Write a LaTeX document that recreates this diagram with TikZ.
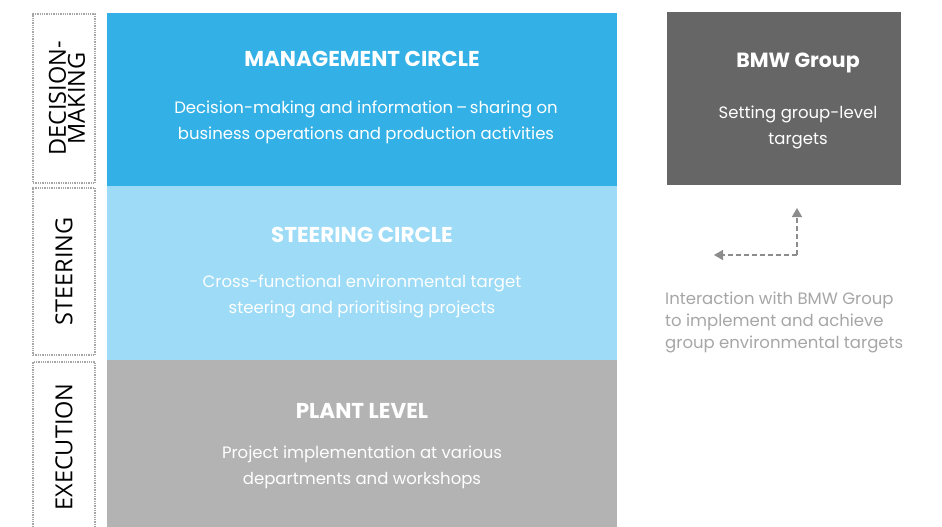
\documentclass[tikz,border=0pt]{standalone}
\usepackage{fontspec}
\setmainfont{Poppins}
\newfontfamily\sidefont{Open Sans}
\usetikzlibrary{arrows.meta}
\definecolor{mgmtblue}{HTML}{33B1E6}
\definecolor{steerblue}{HTML}{9DDBF6}
\definecolor{plantgray}{HTML}{B3B3B3}
\definecolor{groupgray}{HTML}{666666}
\definecolor{notegray}{HTML}{A6A6A6}
\definecolor{linkgray}{HTML}{8C8C8C}

\begin{document}
\begin{tikzpicture}[x=1pt, y=-1pt,
    tier/.style={minimum width=510pt, inner sep=0pt},
    tiertitle/.style={text=white, font=\fontsize{21.5}{24}\selectfont\bfseries},
    tiertext/.style={text=white, align=center, font=\fontsize{16.5}{26}\selectfont},
    sidebox/.style={draw=gray!70, densely dotted, line width=1.3pt, minimum width=62pt, inner sep=0pt},
    sidelabel/.style={rotate=90, align=center, font=\sidefont\fontsize{23.5}{19}\selectfont},
    link/.style={linkgray, dash pattern=on 5pt off 3pt, line width=1.5pt, -{Triangle[width=10pt, length=9pt]}}]
                    % Frame:
                    \useasboundingbox (0, 0) rectangle (942, 527);
                    % Tiers:
                    \node[tier, fill=mgmtblue, minimum height=173pt] (mgmt) at (362, 99.5) {};
                    \node[tier, fill=steerblue, minimum height=174pt] (steer) at (362, 273) {};
                    \node[tier, fill=plantgray, minimum height=175pt] (plant) at (362, 447.5) {};
                    \node[tiertitle] (mgmttitle) at (362, 59) {MANAGEMENT CIRCLE};
                    \node[tiertext] (mgmttext) at (366, 122) {Decision-making and information\,--\,sharing on\\business operations and production activities};
                    \node[tiertitle] (steertitle) at (362, 235) {STEERING CIRCLE};
                    \node[tiertext] (steertext) at (362, 296) {Cross-functional environmental target\\steering and prioritising projects};
                    \node[tiertitle] (planttitle) at (362, 411) {PLANT LEVEL};
                    \node[tiertext] (planttext) at (362, 467) {Project implementation at various\\departments and workshops};
                    % Side labels:
                    \node[sidebox, minimum height=169pt] (decbox) at (64, 98.5) {};
                    \node[sidebox, minimum height=167pt] (steerbox) at (64, 271.5) {};
                    \node[sidebox, minimum height=170pt] (execbox) at (64, 447) {};
                    \node[sidelabel] (declabel) at ([xshift=3pt]decbox.center) {DECISION-\\MAKING};
                    \node[sidelabel] (steerlabel) at (steerbox.center) {STEERING};
                    \node[sidelabel] (execlabel) at (execbox.center) {EXECUTION};
                    % BMW Group:
                    \node[fill=groupgray, minimum width=234pt, minimum height=173pt, inner sep=0pt] (group) at (784, 98.5) {};
                    \node[tiertitle, font=\fontsize{20.5}{24}\selectfont\bfseries] (grouptitle) at (798, 63) {BMW Group};
                    \node[tiertext] (grouptext) at (798, 127) {Setting group-level\\targets};
                    % Interaction:
                    \coordinate (corner) at (797, 255);
                    \coordinate (up) at (797, 208);
                    \coordinate (left) at (714, 255);
                    \draw[link] (corner) -- (up);
                    \draw[link] (corner) -- (left);
                    \node[anchor=north west, align=left, text=notegray, inner sep=0pt, font=\fontsize{16.5}{22}\selectfont] (note) at (665, 292) {Interaction with BMW Group\\to implement and achieve\\group environmental targets};
                \end{tikzpicture}
\end{document}
